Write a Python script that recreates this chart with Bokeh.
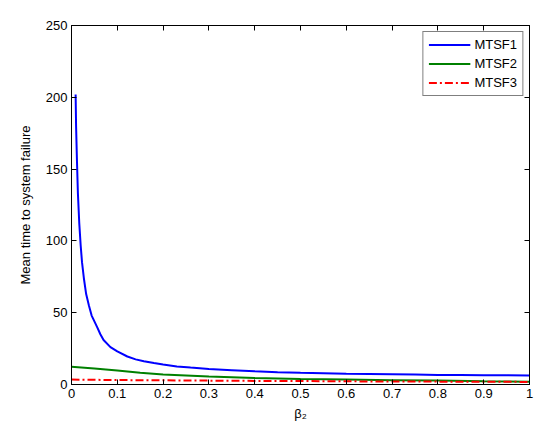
from bokeh.plotting import figure
from bokeh.models import (Range1d, LinearAxis, FixedTicker, NumeralTickFormatter,
                          CustomJSTickFormatter, Legend, LegendItem)
from bokeh.embed import file_html
from bokeh.resources import INLINE

# ---- data ----
beta2_mtsf1 = [0.009, 0.010, 0.012, 0.014, 0.017, 0.020, 0.023, 0.027, 0.032, 0.038,
               0.044, 0.050, 0.056, 0.063, 0.07, 0.085, 0.1, 0.122, 0.14, 0.158,
               0.18, 0.2, 0.23, 0.26, 0.3, 0.35, 0.4, 0.45, 0.5, 0.55,
               0.6, 0.65, 0.7, 0.75, 0.8, 0.85, 0.9, 0.95, 1.0]
mtsf1 = [202, 180, 155, 133, 112, 97, 85, 74, 63, 55,
         48, 44, 40, 35, 31, 26, 23, 19.5, 17.5, 16.2,
         14.9, 13.9, 12.6, 11.8, 10.8, 10.0, 9.2, 8.6, 8.1, 7.8,
         7.5, 7.3, 7.1, 6.9, 6.7, 6.6, 6.5, 6.4, 6.3]

beta2_mtsf2 = [0.0, 0.05, 0.1, 0.15, 0.2, 0.3, 0.4, 0.5, 0.6, 0.7, 0.8, 0.9, 1.0]
mtsf2 = [12.3, 11.2, 9.8, 8.2, 7.0, 5.6, 4.6, 3.9, 3.4, 3.0, 2.7, 2.3, 2.0]

beta2_mtsf3 = [0.0, 0.1, 0.2, 0.3, 0.4, 0.5, 0.6, 0.7, 0.8, 0.9, 1.0]
mtsf3 = [3.4, 3.1, 2.9, 2.7, 2.5, 2.4, 2.2, 2.1, 2.0, 1.9, 1.8]

x_ticks = [0, 0.1, 0.2, 0.3, 0.4, 0.5, 0.6, 0.7, 0.8, 0.9, 1]
y_ticks = [0, 50, 100, 150, 200, 250]

FONT = "Liberation Sans"
FS = "13px"

p = figure(width=537, height=427, output_backend="svg", toolbar_location=None,
           x_range=Range1d(0, 1), y_range=Range1d(0, 250),
           min_border_left=71, min_border_right=8, min_border_top=25, min_border_bottom=43,
           x_axis_label="β₂", y_axis_label="Mean time to system failure")
p.background_fill_color = "white"
p.border_fill_color = "white"
p.outline_line_color = "black"
p.grid.visible = False


def style_axis(ax, ticks, fmt, show_labels=True):
    ax.ticker = FixedTicker(ticks=ticks)
    if show_labels:
        ax.formatter = NumeralTickFormatter(format=fmt)
    else:
        ax.formatter = CustomJSTickFormatter(code="return ''")
    ax.major_tick_in = 5
    ax.major_tick_out = 0
    ax.minor_tick_line_color = None
    ax.axis_line_color = "black"
    ax.major_tick_line_color = "black"
    ax.major_label_text_font = FONT
    ax.major_label_text_font_size = FS
    ax.major_label_text_color = "black"
    ax.major_label_standoff = 4 if show_labels else 0
    ax.axis_label_text_font = FONT
    ax.axis_label_text_font_size = FS
    ax.axis_label_text_font_style = "normal"
    ax.axis_label_text_color = "black"


style_axis(p.xaxis[0], x_ticks, "0.[0]")
style_axis(p.yaxis[0], y_ticks, "0")
p.xaxis[0].axis_label_standoff = 5
p.yaxis[0].axis_label_standoff = 10

top_ax = LinearAxis()
style_axis(top_ax, x_ticks, "0.[0]", show_labels=False)
p.add_layout(top_ax, "above")
right_ax = LinearAxis()
style_axis(right_ax, y_ticks, "0", show_labels=False)
p.add_layout(right_ax, "right")

r1 = p.line(beta2_mtsf1, mtsf1, line_color="#0000ff", line_width=2)
r2 = p.line(beta2_mtsf2, mtsf2, line_color="#008000", line_width=2)
r3 = p.line(beta2_mtsf3, mtsf3, line_color="#ff0000", line_width=2, line_dash="8 3 2 3")

legend = Legend(items=[LegendItem(label="MTSF1", renderers=[r1]),
                       LegendItem(label="MTSF2", renderers=[r2]),
                       LegendItem(label="MTSF3", renderers=[r3])],
                location="top_right")
legend.margin = 6
legend.padding = 5
legend.spacing = 4
legend.glyph_width = 42
legend.glyph_height = 15
legend.label_height = 15
legend.label_standoff = 4
legend.label_text_font = FONT
legend.label_text_font_size = FS
legend.label_text_color = "black"
legend.border_line_color = "black"
legend.border_line_width = 1
legend.background_fill_color = "white"
legend.background_fill_alpha = 1
p.add_layout(legend, "center")

open("out.html", "w").write(file_html(p, INLINE))
